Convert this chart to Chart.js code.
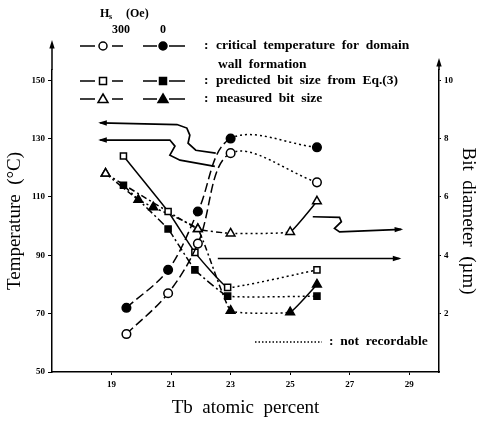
<!DOCTYPE html>
<html>
<head>
<meta charset="utf-8">
<script src="https://cdn.jsdelivr.net/npm/chart.js@4"></script>
<style>
  html, body { margin: 0; padding: 0; background: #fff; }
  canvas { display: block; }
</style>
</head>
<body>
<canvas id="chart" width="481" height="425"></canvas>
<script>
// axis ticks
const xTicks = [19, 21, 23, 25, 27, 29];
const tempTicks = [50, 70, 90, 110, 130, 150];
const bitTicks = [2, 4, 6, 8, 10];

// critical temperature for domain wall formation (left axis, degC)
const tbCrit = [19.5, 20.9, 21.9, 23.0, 25.9];
const crit300 = [63, 77, 94, 125, 115];
const crit0 = [72, 85, 105, 130, 127];

// predicted bit size from Eq.(3) (right axis, um)
const tbPred = [19.4, 20.9, 21.8, 22.9, 25.9];
const pred300 = [7.4, 5.5, 4.1, 2.9, 3.5];
const pred0 = [6.4, 4.9, 3.5, 2.6, 2.6];

// measured bit size (right axis, um)
const tbMeas300 = [18.8, 21.9, 23.0, 25.0, 25.9];
const meas300 = [6.8, 4.9, 4.75, 4.8, 5.85];
const tbMeas0 = [18.8, 19.9, 20.4, 21.9, 23.0, 25.0, 25.9];
const meas0 = [6.8, 5.9, 5.65, 4.9, 2.1, 2.05, 3.0];

// arrows telling which axis a group belongs to: [Tb, value] pairs
const arrowCrit0 = [[18.62, 135.4], [21.2, 134.8], [21.53, 133.6], [21.63, 131.2], [21.57, 128.4], [21.83, 126], [22.5, 125]];
const arrowCrit300 = [[18.62, 129.5], [20.96, 129.5], [21.13, 127.4], [20.96, 124.3], [21.3, 122.6], [22.47, 120.5]];
const arrowMeas = [[28.73, 4.89], [26.66, 4.8], [26.49, 4.92], [26.72, 5.15], [26.66, 5.30], [25.76, 5.32]];
const arrowPred = [[28.67, 3.89], [22.57, 3.89]];

const serif = "'Liberation Serif', 'DejaVu Serif', serif";

function pts(xs, ys) {
    return xs.map((x, i) => ({ x: x, y: ys[i] }));
}

// segments from ~23 at% on are "not recordable" -> dotted
function seg(dash, solidTail) {
    return {
        borderDash: (c) => {
            const x0 = c.p0.parsed.x;
            if (x0 < 22.8) return dash;
            if (solidTail && x0 >= 24.9) return [];
            return [2, 3];
        },
    };
}

function series(label, xs, ys, axis, style, filled, dash, tension, solidTail) {
    return {
        label: label,
        data: pts(xs, ys),
        yAxisID: axis,
        borderColor: "#000",
        borderWidth: 1.5,
        pointStyle: style,
        pointRadius: style === "triangle" ? 5 : 4.3,
        pointBorderWidth: 1.5,
        pointBackgroundColor: filled ? "#000" : "#fff",
        pointBorderColor: "#000",
        tension: tension,
        segment: seg(dash, solidTail),
    };
}

function arrowHead(ctx, x0, y0, x1, y1) {
    const a = Math.atan2(y1 - y0, x1 - x0);
    ctx.beginPath();
    ctx.moveTo(x1, y1);
    ctx.lineTo(x1 - 9 * Math.cos(a - 0.3), y1 - 9 * Math.sin(a - 0.3));
    ctx.lineTo(x1 - 9 * Math.cos(a + 0.3), y1 - 9 * Math.sin(a + 0.3));
    ctx.closePath();
    ctx.fill();
}

function drawMarker(ctx, style, filled, x, y) {
    ctx.beginPath();
    if (style === "circle") ctx.arc(x, y, 4, 0, Math.PI * 2);
    else if (style === "rect") ctx.rect(x - 3.5, y - 3.5, 7, 7);
    else {
        ctx.moveTo(x, y - 5);
        ctx.lineTo(x + 5, y + 3.5);
        ctx.lineTo(x - 5, y + 3.5);
        ctx.closePath();
    }
    ctx.fillStyle = filled ? "#000" : "#fff";
    ctx.fill();
    ctx.stroke();
}

const extrasPlugin = {
    id: "extras",
    afterDatasetsDraw(chart) {
        const ctx = chart.ctx;
        const xs = chart.scales.x;
        const yT = chart.scales.y;
        const yB = chart.scales.y1;
        const area = chart.chartArea;
        ctx.save();
        ctx.strokeStyle = "#000";
        ctx.fillStyle = "#000";
        ctx.lineWidth = 1.5;

        // vertical axes continue upward and end in arrows
        [[area.left, 42], [area.right, 60]].forEach(([ax, top]) => {
            ctx.beginPath();
            ctx.moveTo(ax, area.top);
            ctx.lineTo(ax, top + 4);
            ctx.stroke();
            arrowHead(ctx, ax, top + 10, ax, top - 2);
        });

        // axis pointer arrows
        const paths = [
            [arrowCrit0, yT],
            [arrowCrit300, yT],
            [arrowMeas, yB],
            [arrowPred, yB],
        ];
        ctx.lineWidth = 1.7;
        paths.forEach(([p, sc]) => {
            const px = p.map((q) => [xs.getPixelForValue(q[0]), sc.getPixelForValue(q[1])]);
            ctx.beginPath();
            ctx.moveTo(px[0][0], px[0][1]);
            for (let i = 1; i < px.length; i++) ctx.lineTo(px[i][0], px[i][1]);
            ctx.stroke();
            arrowHead(ctx, px[1][0], px[1][1], px[0][0] + (px[0][0] > px[1][0] ? 2 : -2), px[0][1]);
        });

        // legend block
        ctx.lineWidth = 1.5;
        ctx.textBaseline = "middle";
        ctx.textAlign = "left";
        ctx.font = "bold 12px " + serif;
        ctx.fillText("H", 100, 14);
        ctx.font = "bold 8px " + serif;
        ctx.fillText("s", 109, 17);
        ctx.font = "bold 12px " + serif;
        ctx.fillText("(Oe)", 126, 14);
        ctx.fillText("300", 112, 30);
        ctx.fillText("0", 160, 30);

        const rows = [
            ["circle", 46, "critical  temperature  for  domain"],
            ["rect", 81, "predicted  bit  size  from  Eq.(3)"],
            ["triangle", 99, "measured  bit  size"],
        ];
        ctx.font = "bold 13.5px " + serif;
        rows.forEach(([st, y, txt]) => {
            ctx.beginPath();
            ctx.moveTo(80, y); ctx.lineTo(95, y);
            ctx.moveTo(112, y); ctx.lineTo(123, y);
            ctx.moveTo(143, y); ctx.lineTo(157, y);
            ctx.moveTo(169, y); ctx.lineTo(185, y);
            ctx.stroke();
            drawMarker(ctx, st, false, 103, y);
            drawMarker(ctx, st, true, 163, y);
            ctx.fillStyle = "#000";
            ctx.fillText(":", 204, y);
            ctx.fillText(txt, 216, y);
        });
        ctx.fillText("wall  formation", 218, 65);

        // not recordable key
        ctx.setLineDash([1.5, 2]);
        ctx.beginPath();
        ctx.moveTo(255, 342);
        ctx.lineTo(322, 342);
        ctx.stroke();
        ctx.setLineDash([]);
        ctx.fillText(":  not  recordable", 329, 342);
        ctx.restore();
    },
};

const tickFont = { family: serif, size: 9, weight: "bold" };
const titleFont = { family: serif, size: 19 };

new Chart(document.getElementById("chart"), {
    type: "line",
    data: {
        datasets: [
            series("crit 300", tbCrit, crit300, "y", "circle", false, [9, 4], 0.35, false),
            series("crit 0", tbCrit, crit0, "y", "circle", true, [9, 4], 0.35, false),
            series("pred 300", tbPred, pred300, "y1", "rect", false, [], 0.1, false),
            series("pred 0", tbPred, pred0, "y1", "rect", true, [8, 3, 2, 3], 0.1, false),
            series("meas 300", tbMeas300, meas300, "y1", "triangle", false, [6, 3, 2, 3], 0.1, true),
            series("meas 0", tbMeas0, meas0, "y1", "triangle", true, [6, 3, 2, 3], 0.1, true),
        ],
    },
    options: {
        responsive: false,
        animation: false,
        layout: { padding: { top: 70, left: 0, right: 0, bottom: 0 } },
        plugins: { legend: { display: false }, tooltip: { enabled: false } },
        scales: {
            x: {
                type: "linear",
                min: 17,
                max: 30,
                afterBuildTicks: (s) => { s.ticks = xTicks.map((v) => ({ value: v })); },
                afterFit: (s) => { s.height = 53; },
                grid: { drawOnChartArea: false, tickLength: 3, color: "#000" },
                border: { color: "#000", width: 1.5 },
                ticks: { color: "#000", font: tickFont, padding: 4 },
                title: { display: true, text: "Tb  atomic  percent", color: "#000", font: titleFont, padding: { bottom: 6 } },
            },
            y: {
                type: "linear",
                position: "left",
                min: 50,
                max: 153.5,
                afterBuildTicks: (s) => { s.ticks = tempTicks.map((v) => ({ value: v })); },
                afterFit: (s) => { s.width = 52; },
                grid: { drawOnChartArea: false, tickLength: 4, color: "#000" },
                border: { color: "#000", width: 1.5 },
                ticks: { color: "#000", font: tickFont, padding: 3 },
                title: { display: true, text: "Temperature  (°C)", color: "#000", font: titleFont, padding: { top: 4 } },
            },
            y1: {
                type: "linear",
                position: "right",
                min: 0,
                max: 10.35,
                afterBuildTicks: (s) => { s.ticks = bitTicks.map((v) => ({ value: v })); },
                afterFit: (s) => { s.width = 42; },
                grid: { drawOnChartArea: false, tickLength: 2, color: "#000" },
                border: { color: "#000", width: 1.5 },
                ticks: { color: "#000", font: tickFont, padding: 3 },
                title: { display: true, text: "Bit  diameter  (µm)", color: "#000", font: titleFont, padding: { top: 2 } },
            },
        },
    },
    plugins: [extrasPlugin],
});
</script>
</body>
</html>
